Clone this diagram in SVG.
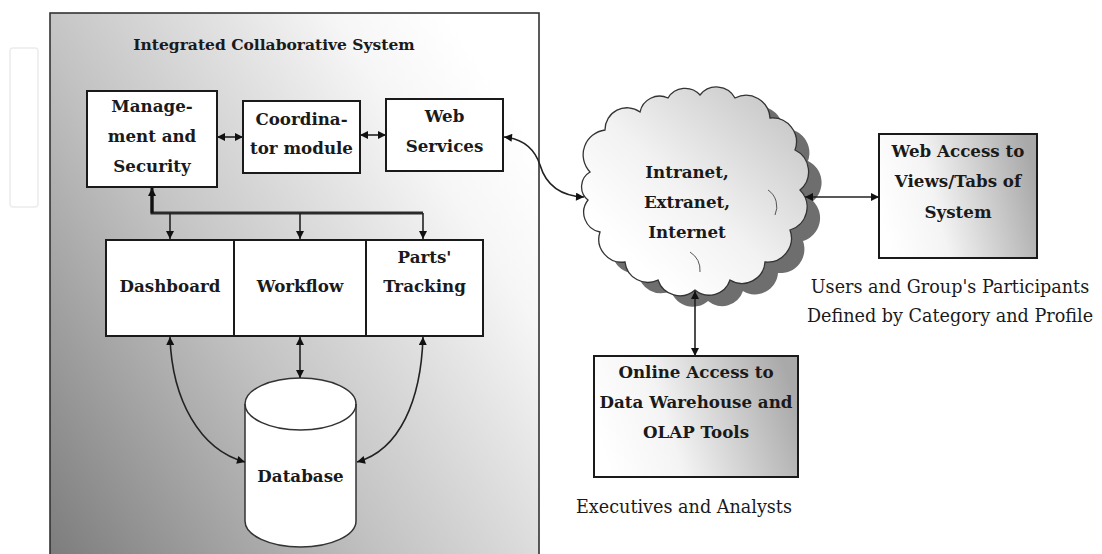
<svg xmlns="http://www.w3.org/2000/svg" width="1102" height="554" viewBox="0 0 1102 554">
<defs>
<linearGradient id="gOuter" x1="0" y1="1" x2="1" y2="0.25">
<stop offset="0" stop-color="#7a7a7a"/>
<stop offset="0.45" stop-color="#c2c2c2"/>
<stop offset="0.85" stop-color="#f6f6f6"/>
<stop offset="1" stop-color="#ffffff"/>
</linearGradient>
<linearGradient id="gBox" x1="0" y1="0.6" x2="1" y2="0.4">
<stop offset="0" stop-color="#ffffff"/>
<stop offset="0.35" stop-color="#f4f4f4"/>
<stop offset="1" stop-color="#a9a9a9"/>
</linearGradient>
<linearGradient id="gCloud" x1="0.2" y1="0.8" x2="0.9" y2="0.1">
<stop offset="0" stop-color="#ffffff"/>
<stop offset="0.4" stop-color="#f2f2f2"/>
<stop offset="1" stop-color="#c8c8c8"/>
</linearGradient>
<marker id="ah" viewBox="0 0 10 10" refX="10" refY="5" markerWidth="9" markerHeight="8" markerUnits="userSpaceOnUse" orient="auto-start-reverse">
<path d="M0,0 L10,5 L0,10 z" fill="#111"/>
</marker>
<path id="cloudShape" d="M590,172 A25,25 0 0 1 605,130 A22,22 0 0 1 640,112 A20,20 0 0 1 668,98 A20,20 0 0 1 700,95 A21,21 0 0 1 735,98 A24,24 0 0 1 770,118 A24,24 0 0 1 795,150 A24,24 0 0 1 800,190 A24,24 0 0 1 790,230 A24,24 0 0 1 765,262 A23,23 0 0 1 730,280 A22,22 0 0 1 695,290 A23,23 0 0 1 658,280 A23,23 0 0 1 625,262 A23,23 0 0 1 600,232 A20,20 0 0 1 588,200 A17,17 0 0 1 590,172 Z"/>
</defs>
<style>
.box{fill:#fff;stroke:#1a1a1a;stroke-width:2}
.gbox{fill:url(#gBox);stroke:#1a1a1a;stroke-width:2}
.lbl{font-family:"DejaVu Serif","Liberation Serif",serif;font-weight:bold;font-size:16.7px;fill:#1a1a1a;text-anchor:middle}
.ttl{font-family:"DejaVu Serif","Liberation Serif",serif;font-weight:bold;font-size:15.5px;fill:#1a1a1a;text-anchor:middle}
.cap{font-family:"DejaVu Serif","Liberation Serif",serif;font-size:17.6px;fill:#1a1a1a;text-anchor:middle}
.con{fill:none;stroke:#222;stroke-width:1.6;marker-start:url(#ah);marker-end:url(#ah)}
</style>
<rect width="1102" height="554" fill="#ffffff"/>
<rect x="10" y="48" width="28" height="159" rx="3" fill="none" stroke="#ececec" stroke-width="1.5"/>

<g id="system">
<rect x="50" y="13" width="489" height="560" fill="url(#gOuter)" stroke="#333" stroke-width="1.6"/>
<text class="ttl" x="274" y="50">Integrated Collaborative System</text>
</g>

<g id="management">
<rect class="box" x="87" y="91" width="130" height="96"/>
<text class="lbl" x="152" y="112">Manage-</text>
<text class="lbl" x="152" y="142">ment and</text>
<text class="lbl" x="152" y="172">Security</text>
</g>

<g id="coordinator">
<rect class="box" x="243" y="101" width="117" height="72"/>
<text class="lbl" x="301.5" y="125">Coordina-</text>
<text class="lbl" x="301.5" y="154">tor module</text>
</g>

<g id="webservices">
<rect class="box" x="386" y="99" width="117" height="72"/>
<text class="lbl" x="444.5" y="122">Web</text>
<text class="lbl" x="444.5" y="152">Services</text>
</g>

<g id="modules">
<rect class="box" x="106" y="240" width="377" height="96"/>
<line x1="234" y1="240" x2="234" y2="336" stroke="#1a1a1a" stroke-width="2"/>
<line x1="366" y1="240" x2="366" y2="336" stroke="#1a1a1a" stroke-width="2"/>
</g>
<g id="dashboard"><text class="lbl" x="170" y="292">Dashboard</text></g>
<g id="workflow"><text class="lbl" x="300" y="292">Workflow</text></g>
<g id="partstracking">
<text class="lbl" x="424.5" y="263">Parts'</text>
<text class="lbl" x="424.5" y="292">Tracking</text>
</g>

<g id="database">
<path d="M245,404 L245,521 A55.5,26 0 0 0 356,521 L356,404 A55.5,26 0 0 0 245,404 Z" fill="#fff" stroke="#333" stroke-width="1.5"/>
<path d="M245,404 A55.5,26 0 0 0 356,404" fill="none" stroke="#333" stroke-width="1.5"/>
<text class="lbl" x="300.5" y="482">Database</text>
</g>

<g id="network">
<use href="#cloudShape" transform="translate(13,11)" fill="#6e6e6e"/>
<use href="#cloudShape" fill="url(#gCloud)" stroke="#333" stroke-width="1.3"/>
<path d="M768,190 A20,20 0 0 1 775,215 M690,252 A22,22 0 0 1 700,272" fill="none" stroke="#555" stroke-width="1"/>
<text class="lbl" x="687" y="178">Intranet,</text>
<text class="lbl" x="687" y="208">Extranet,</text>
<text class="lbl" x="687" y="238">Internet</text>
</g>

<g id="webaccess">
<rect class="gbox" x="879" y="134" width="158" height="124"/>
<text class="lbl" x="958" y="157">Web Access to</text>
<text class="lbl" x="958" y="187">Views/Tabs of</text>
<text class="lbl" x="958" y="218">System</text>
</g>
<g id="users">
<text class="cap" x="950" y="293">Users and Group's Participants</text>
<text class="cap" x="950" y="322">Defined by Category and Profile</text>
</g>

<g id="olap">
<rect class="gbox" x="594" y="356" width="204" height="121"/>
<text class="lbl" x="696" y="378">Online Access to</text>
<text class="lbl" x="696" y="408">Data Warehouse and</text>
<text class="lbl" x="696" y="438">OLAP Tools</text>
</g>
<g id="executives">
<text class="cap" x="684" y="513">Executives and Analysts</text>
</g>

<g id="connectors">
<line class="con" x1="217" y1="137" x2="243" y2="137"/>
<line class="con" x1="360" y1="135" x2="386" y2="135"/>
<path class="con" d="M504,137 C525,139 535,150 540,165 C546,185 560,196 584,197"/>
<path d="M152,195 L152,213 L423,213" fill="none" stroke="#2a2a2a" stroke-width="3"/>
<line x1="152" y1="213" x2="152" y2="188" stroke="#111" stroke-width="3" marker-end="url(#ah)"/>
<line x1="170" y1="213" x2="170" y2="239" stroke="#222" stroke-width="1.6" marker-end="url(#ah)"/>
<line x1="300" y1="213" x2="300" y2="239" stroke="#222" stroke-width="1.6" marker-end="url(#ah)"/>
<line x1="423" y1="213" x2="423" y2="239" stroke="#222" stroke-width="1.6" marker-end="url(#ah)"/>
<line class="con" x1="300" y1="337" x2="300" y2="378" stroke-width="2.2"/>
<path class="con" d="M170,337 C172,400 200,450 245,462"/>
<path class="con" d="M423,337 C421,400 400,450 357,462"/>
<line class="con" x1="805" y1="197" x2="879" y2="197"/>
<line class="con" x1="695" y1="291" x2="695" y2="356"/>
</g>
</svg>
